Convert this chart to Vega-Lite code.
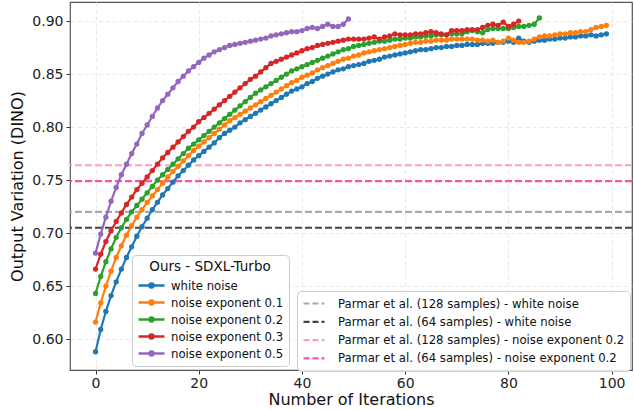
{
"$schema": "https://vega.github.io/schema/vega-lite/v6.json",
"width": 562, "height": 368,
"autosize": {"type": "none"},
"padding": {"left": 70, "top": 2, "right": 2, "bottom": 40},
"background": "white",
"config": {
 "font": "DejaVu Sans",
 "view": {"stroke": "#555", "strokeWidth": 1.2},
 "axis": {"labelFontSize": 14, "labelColor": "#222", "titleFontSize": 16, "titleFontWeight": "normal", "titleColor": "#111", "tickColor": "#333", "tickSize": 4, "domain": false, "gridColor": "#e2e2e2", "gridDash": [4, 3], "gridWidth": 0.8},
 "legend": {"labelFontSize": 11.7, "labelColor": "#111", "fillColor": "rgba(255,255,255,0.85)", "strokeColor": "#cccccc", "cornerRadius": 4, "padding": 5, "labelLimit": 400}
},
"datasets": {
 "refs": [
  {"m": "Parmar et al. (128 samples) - white noise", "v": 0.720},
  {"m": "Parmar et al. (64 samples) - white noise", "v": 0.705},
  {"m": "Parmar et al. (128 samples) - noise exponent 0.2", "v": 0.764},
  {"m": "Parmar et al. (64 samples) - noise exponent 0.2", "v": 0.749}
 ],
 "curves": [
{"s":"white noise","i":0,"v":0.588},{"s":"white noise","i":1,"v":0.609},{"s":"white noise","i":2,"v":0.626},{"s":"white noise","i":3,"v":0.641},{"s":"white noise","i":4,"v":0.654},{"s":"white noise","i":5,"v":0.666},{"s":"white noise","i":6,"v":0.677},{"s":"white noise","i":7,"v":0.687},{"s":"white noise","i":8,"v":0.697},{"s":"white noise","i":9,"v":0.706},
{"s":"white noise","i":10,"v":0.714},{"s":"white noise","i":11,"v":0.722},{"s":"white noise","i":12,"v":0.729},{"s":"white noise","i":13,"v":0.736},{"s":"white noise","i":14,"v":0.742},{"s":"white noise","i":15,"v":0.748},{"s":"white noise","i":16,"v":0.754},{"s":"white noise","i":17,"v":0.759},{"s":"white noise","i":18,"v":0.764},{"s":"white noise","i":19,"v":0.769},
{"s":"white noise","i":20,"v":0.773},{"s":"white noise","i":21,"v":0.777},{"s":"white noise","i":22,"v":0.781},{"s":"white noise","i":23,"v":0.785},{"s":"white noise","i":24,"v":0.790},{"s":"white noise","i":25,"v":0.794},{"s":"white noise","i":26,"v":0.797},{"s":"white noise","i":27,"v":0.800},{"s":"white noise","i":28,"v":0.804},{"s":"white noise","i":29,"v":0.807},
{"s":"white noise","i":30,"v":0.810},{"s":"white noise","i":31,"v":0.813},{"s":"white noise","i":32,"v":0.816},{"s":"white noise","i":33,"v":0.819},{"s":"white noise","i":34,"v":0.822},{"s":"white noise","i":35,"v":0.825},{"s":"white noise","i":36,"v":0.828},{"s":"white noise","i":37,"v":0.831},{"s":"white noise","i":38,"v":0.834},{"s":"white noise","i":39,"v":0.836},
{"s":"white noise","i":40,"v":0.838},{"s":"white noise","i":41,"v":0.841},{"s":"white noise","i":42,"v":0.843},{"s":"white noise","i":43,"v":0.846},{"s":"white noise","i":44,"v":0.848},{"s":"white noise","i":45,"v":0.850},{"s":"white noise","i":46,"v":0.852},{"s":"white noise","i":47,"v":0.854},{"s":"white noise","i":48,"v":0.855},{"s":"white noise","i":49,"v":0.857},
{"s":"white noise","i":50,"v":0.858},{"s":"white noise","i":51,"v":0.859},{"s":"white noise","i":52,"v":0.860},{"s":"white noise","i":53,"v":0.862},{"s":"white noise","i":54,"v":0.863},{"s":"white noise","i":55,"v":0.864},{"s":"white noise","i":56,"v":0.866},{"s":"white noise","i":57,"v":0.867},{"s":"white noise","i":58,"v":0.868},{"s":"white noise","i":59,"v":0.869},
{"s":"white noise","i":60,"v":0.870},{"s":"white noise","i":61,"v":0.871},{"s":"white noise","i":62,"v":0.872},{"s":"white noise","i":63,"v":0.873},{"s":"white noise","i":64,"v":0.873},{"s":"white noise","i":65,"v":0.874},{"s":"white noise","i":66,"v":0.875},{"s":"white noise","i":67,"v":0.875},{"s":"white noise","i":68,"v":0.876},{"s":"white noise","i":69,"v":0.876},
{"s":"white noise","i":70,"v":0.877},{"s":"white noise","i":71,"v":0.877},{"s":"white noise","i":72,"v":0.878},{"s":"white noise","i":73,"v":0.878},{"s":"white noise","i":74,"v":0.878},{"s":"white noise","i":75,"v":0.879},{"s":"white noise","i":76,"v":0.879},{"s":"white noise","i":77,"v":0.879},{"s":"white noise","i":78,"v":0.880},{"s":"white noise","i":79,"v":0.880},
{"s":"white noise","i":80,"v":0.881},{"s":"white noise","i":81,"v":0.880},{"s":"white noise","i":82,"v":0.884},{"s":"white noise","i":83,"v":0.881},{"s":"white noise","i":84,"v":0.880},{"s":"white noise","i":85,"v":0.881},{"s":"white noise","i":86,"v":0.882},{"s":"white noise","i":87,"v":0.882},{"s":"white noise","i":88,"v":0.883},{"s":"white noise","i":89,"v":0.883},
{"s":"white noise","i":90,"v":0.884},{"s":"white noise","i":91,"v":0.884},{"s":"white noise","i":92,"v":0.885},{"s":"white noise","i":93,"v":0.885},{"s":"white noise","i":94,"v":0.886},{"s":"white noise","i":95,"v":0.886},{"s":"white noise","i":96,"v":0.887},{"s":"white noise","i":97,"v":0.886},{"s":"white noise","i":98,"v":0.887},{"s":"white noise","i":99,"v":0.888},
{"s":"noise exponent 0.1","i":0,"v":0.616},{"s":"noise exponent 0.1","i":1,"v":0.634},{"s":"noise exponent 0.1","i":2,"v":0.650},{"s":"noise exponent 0.1","i":3,"v":0.664},{"s":"noise exponent 0.1","i":4,"v":0.677},{"s":"noise exponent 0.1","i":5,"v":0.688},{"s":"noise exponent 0.1","i":6,"v":0.698},{"s":"noise exponent 0.1","i":7,"v":0.707},{"s":"noise exponent 0.1","i":8,"v":0.715},{"s":"noise exponent 0.1","i":9,"v":0.722},
{"s":"noise exponent 0.1","i":10,"v":0.729},{"s":"noise exponent 0.1","i":11,"v":0.735},{"s":"noise exponent 0.1","i":12,"v":0.741},{"s":"noise exponent 0.1","i":13,"v":0.747},{"s":"noise exponent 0.1","i":14,"v":0.753},{"s":"noise exponent 0.1","i":15,"v":0.758},{"s":"noise exponent 0.1","i":16,"v":0.763},{"s":"noise exponent 0.1","i":17,"v":0.768},{"s":"noise exponent 0.1","i":18,"v":0.773},{"s":"noise exponent 0.1","i":19,"v":0.778},
{"s":"noise exponent 0.1","i":20,"v":0.782},{"s":"noise exponent 0.1","i":21,"v":0.786},{"s":"noise exponent 0.1","i":22,"v":0.790},{"s":"noise exponent 0.1","i":23,"v":0.794},{"s":"noise exponent 0.1","i":24,"v":0.798},{"s":"noise exponent 0.1","i":25,"v":0.802},{"s":"noise exponent 0.1","i":26,"v":0.806},{"s":"noise exponent 0.1","i":27,"v":0.809},{"s":"noise exponent 0.1","i":28,"v":0.812},{"s":"noise exponent 0.1","i":29,"v":0.815},
{"s":"noise exponent 0.1","i":30,"v":0.818},{"s":"noise exponent 0.1","i":31,"v":0.821},{"s":"noise exponent 0.1","i":32,"v":0.824},{"s":"noise exponent 0.1","i":33,"v":0.827},{"s":"noise exponent 0.1","i":34,"v":0.830},{"s":"noise exponent 0.1","i":35,"v":0.833},{"s":"noise exponent 0.1","i":36,"v":0.836},{"s":"noise exponent 0.1","i":37,"v":0.839},{"s":"noise exponent 0.1","i":38,"v":0.842},{"s":"noise exponent 0.1","i":39,"v":0.844},
{"s":"noise exponent 0.1","i":40,"v":0.847},{"s":"noise exponent 0.1","i":41,"v":0.849},{"s":"noise exponent 0.1","i":42,"v":0.851},{"s":"noise exponent 0.1","i":43,"v":0.854},{"s":"noise exponent 0.1","i":44,"v":0.856},{"s":"noise exponent 0.1","i":45,"v":0.858},{"s":"noise exponent 0.1","i":46,"v":0.860},{"s":"noise exponent 0.1","i":47,"v":0.862},{"s":"noise exponent 0.1","i":48,"v":0.864},{"s":"noise exponent 0.1","i":49,"v":0.865},
{"s":"noise exponent 0.1","i":50,"v":0.867},{"s":"noise exponent 0.1","i":51,"v":0.868},{"s":"noise exponent 0.1","i":52,"v":0.870},{"s":"noise exponent 0.1","i":53,"v":0.871},{"s":"noise exponent 0.1","i":54,"v":0.872},{"s":"noise exponent 0.1","i":55,"v":0.873},{"s":"noise exponent 0.1","i":56,"v":0.874},{"s":"noise exponent 0.1","i":57,"v":0.875},{"s":"noise exponent 0.1","i":58,"v":0.876},{"s":"noise exponent 0.1","i":59,"v":0.877},
{"s":"noise exponent 0.1","i":60,"v":0.878},{"s":"noise exponent 0.1","i":61,"v":0.879},{"s":"noise exponent 0.1","i":62,"v":0.880},{"s":"noise exponent 0.1","i":63,"v":0.880},{"s":"noise exponent 0.1","i":64,"v":0.881},{"s":"noise exponent 0.1","i":65,"v":0.881},{"s":"noise exponent 0.1","i":66,"v":0.882},{"s":"noise exponent 0.1","i":67,"v":0.882},{"s":"noise exponent 0.1","i":68,"v":0.882},{"s":"noise exponent 0.1","i":69,"v":0.883},
{"s":"noise exponent 0.1","i":70,"v":0.883},{"s":"noise exponent 0.1","i":71,"v":0.883},{"s":"noise exponent 0.1","i":72,"v":0.883},{"s":"noise exponent 0.1","i":73,"v":0.883},{"s":"noise exponent 0.1","i":74,"v":0.882},{"s":"noise exponent 0.1","i":75,"v":0.882},{"s":"noise exponent 0.1","i":76,"v":0.881},{"s":"noise exponent 0.1","i":77,"v":0.882},{"s":"noise exponent 0.1","i":78,"v":0.880},{"s":"noise exponent 0.1","i":79,"v":0.881},
{"s":"noise exponent 0.1","i":80,"v":0.884},{"s":"noise exponent 0.1","i":81,"v":0.882},{"s":"noise exponent 0.1","i":82,"v":0.880},{"s":"noise exponent 0.1","i":83,"v":0.880},{"s":"noise exponent 0.1","i":84,"v":0.881},{"s":"noise exponent 0.1","i":85,"v":0.883},{"s":"noise exponent 0.1","i":86,"v":0.885},{"s":"noise exponent 0.1","i":87,"v":0.886},{"s":"noise exponent 0.1","i":88,"v":0.886},{"s":"noise exponent 0.1","i":89,"v":0.887},
{"s":"noise exponent 0.1","i":90,"v":0.888},{"s":"noise exponent 0.1","i":91,"v":0.888},{"s":"noise exponent 0.1","i":92,"v":0.889},{"s":"noise exponent 0.1","i":93,"v":0.889},{"s":"noise exponent 0.1","i":94,"v":0.890},{"s":"noise exponent 0.1","i":95,"v":0.890},{"s":"noise exponent 0.1","i":96,"v":0.892},{"s":"noise exponent 0.1","i":97,"v":0.894},{"s":"noise exponent 0.1","i":98,"v":0.895},{"s":"noise exponent 0.1","i":99,"v":0.896},
{"s":"noise exponent 0.2","i":0,"v":0.643},{"s":"noise exponent 0.2","i":1,"v":0.659},{"s":"noise exponent 0.2","i":2,"v":0.673},{"s":"noise exponent 0.2","i":3,"v":0.685},{"s":"noise exponent 0.2","i":4,"v":0.696},{"s":"noise exponent 0.2","i":5,"v":0.705},{"s":"noise exponent 0.2","i":6,"v":0.713},{"s":"noise exponent 0.2","i":7,"v":0.720},{"s":"noise exponent 0.2","i":8,"v":0.726},{"s":"noise exponent 0.2","i":9,"v":0.732},
{"s":"noise exponent 0.2","i":10,"v":0.738},{"s":"noise exponent 0.2","i":11,"v":0.744},{"s":"noise exponent 0.2","i":12,"v":0.750},{"s":"noise exponent 0.2","i":13,"v":0.755},{"s":"noise exponent 0.2","i":14,"v":0.760},{"s":"noise exponent 0.2","i":15,"v":0.765},{"s":"noise exponent 0.2","i":16,"v":0.770},{"s":"noise exponent 0.2","i":17,"v":0.775},{"s":"noise exponent 0.2","i":18,"v":0.780},{"s":"noise exponent 0.2","i":19,"v":0.784},
{"s":"noise exponent 0.2","i":20,"v":0.788},{"s":"noise exponent 0.2","i":21,"v":0.792},{"s":"noise exponent 0.2","i":22,"v":0.796},{"s":"noise exponent 0.2","i":23,"v":0.800},{"s":"noise exponent 0.2","i":24,"v":0.804},{"s":"noise exponent 0.2","i":25,"v":0.808},{"s":"noise exponent 0.2","i":26,"v":0.812},{"s":"noise exponent 0.2","i":27,"v":0.816},{"s":"noise exponent 0.2","i":28,"v":0.820},{"s":"noise exponent 0.2","i":29,"v":0.824},
{"s":"noise exponent 0.2","i":30,"v":0.828},{"s":"noise exponent 0.2","i":31,"v":0.832},{"s":"noise exponent 0.2","i":32,"v":0.835},{"s":"noise exponent 0.2","i":33,"v":0.838},{"s":"noise exponent 0.2","i":34,"v":0.841},{"s":"noise exponent 0.2","i":35,"v":0.844},{"s":"noise exponent 0.2","i":36,"v":0.847},{"s":"noise exponent 0.2","i":37,"v":0.850},{"s":"noise exponent 0.2","i":38,"v":0.853},{"s":"noise exponent 0.2","i":39,"v":0.855},
{"s":"noise exponent 0.2","i":40,"v":0.857},{"s":"noise exponent 0.2","i":41,"v":0.859},{"s":"noise exponent 0.2","i":42,"v":0.861},{"s":"noise exponent 0.2","i":43,"v":0.863},{"s":"noise exponent 0.2","i":44,"v":0.865},{"s":"noise exponent 0.2","i":45,"v":0.867},{"s":"noise exponent 0.2","i":46,"v":0.869},{"s":"noise exponent 0.2","i":47,"v":0.871},{"s":"noise exponent 0.2","i":48,"v":0.873},{"s":"noise exponent 0.2","i":49,"v":0.874},
{"s":"noise exponent 0.2","i":50,"v":0.876},{"s":"noise exponent 0.2","i":51,"v":0.877},{"s":"noise exponent 0.2","i":52,"v":0.878},{"s":"noise exponent 0.2","i":53,"v":0.879},{"s":"noise exponent 0.2","i":54,"v":0.880},{"s":"noise exponent 0.2","i":55,"v":0.881},{"s":"noise exponent 0.2","i":56,"v":0.881},{"s":"noise exponent 0.2","i":57,"v":0.882},{"s":"noise exponent 0.2","i":58,"v":0.883},{"s":"noise exponent 0.2","i":59,"v":0.883},
{"s":"noise exponent 0.2","i":60,"v":0.884},{"s":"noise exponent 0.2","i":61,"v":0.884},{"s":"noise exponent 0.2","i":62,"v":0.885},{"s":"noise exponent 0.2","i":63,"v":0.885},{"s":"noise exponent 0.2","i":64,"v":0.886},{"s":"noise exponent 0.2","i":65,"v":0.886},{"s":"noise exponent 0.2","i":66,"v":0.887},{"s":"noise exponent 0.2","i":67,"v":0.887},{"s":"noise exponent 0.2","i":68,"v":0.887},{"s":"noise exponent 0.2","i":69,"v":0.888},
{"s":"noise exponent 0.2","i":70,"v":0.888},{"s":"noise exponent 0.2","i":71,"v":0.888},{"s":"noise exponent 0.2","i":72,"v":0.890},{"s":"noise exponent 0.2","i":73,"v":0.891},{"s":"noise exponent 0.2","i":74,"v":0.890},{"s":"noise exponent 0.2","i":75,"v":0.889},{"s":"noise exponent 0.2","i":76,"v":0.892},{"s":"noise exponent 0.2","i":77,"v":0.893},{"s":"noise exponent 0.2","i":78,"v":0.893},{"s":"noise exponent 0.2","i":79,"v":0.893},
{"s":"noise exponent 0.2","i":80,"v":0.893},{"s":"noise exponent 0.2","i":81,"v":0.894},{"s":"noise exponent 0.2","i":82,"v":0.895},{"s":"noise exponent 0.2","i":83,"v":0.895},{"s":"noise exponent 0.2","i":84,"v":0.896},{"s":"noise exponent 0.2","i":85,"v":0.897},{"s":"noise exponent 0.2","i":86,"v":0.903},
{"s":"noise exponent 0.3","i":0,"v":0.666},{"s":"noise exponent 0.3","i":1,"v":0.680},{"s":"noise exponent 0.3","i":2,"v":0.692},{"s":"noise exponent 0.3","i":3,"v":0.702},{"s":"noise exponent 0.3","i":4,"v":0.711},{"s":"noise exponent 0.3","i":5,"v":0.719},{"s":"noise exponent 0.3","i":6,"v":0.727},{"s":"noise exponent 0.3","i":7,"v":0.734},{"s":"noise exponent 0.3","i":8,"v":0.741},{"s":"noise exponent 0.3","i":9,"v":0.747},
{"s":"noise exponent 0.3","i":10,"v":0.753},{"s":"noise exponent 0.3","i":11,"v":0.759},{"s":"noise exponent 0.3","i":12,"v":0.765},{"s":"noise exponent 0.3","i":13,"v":0.771},{"s":"noise exponent 0.3","i":14,"v":0.776},{"s":"noise exponent 0.3","i":15,"v":0.781},{"s":"noise exponent 0.3","i":16,"v":0.786},{"s":"noise exponent 0.3","i":17,"v":0.791},{"s":"noise exponent 0.3","i":18,"v":0.796},{"s":"noise exponent 0.3","i":19,"v":0.800},
{"s":"noise exponent 0.3","i":20,"v":0.805},{"s":"noise exponent 0.3","i":21,"v":0.809},{"s":"noise exponent 0.3","i":22,"v":0.813},{"s":"noise exponent 0.3","i":23,"v":0.817},{"s":"noise exponent 0.3","i":24,"v":0.821},{"s":"noise exponent 0.3","i":25,"v":0.825},{"s":"noise exponent 0.3","i":26,"v":0.829},{"s":"noise exponent 0.3","i":27,"v":0.833},{"s":"noise exponent 0.3","i":28,"v":0.837},{"s":"noise exponent 0.3","i":29,"v":0.841},
{"s":"noise exponent 0.3","i":30,"v":0.845},{"s":"noise exponent 0.3","i":31,"v":0.848},{"s":"noise exponent 0.3","i":32,"v":0.852},{"s":"noise exponent 0.3","i":33,"v":0.856},{"s":"noise exponent 0.3","i":34,"v":0.860},{"s":"noise exponent 0.3","i":35,"v":0.862},{"s":"noise exponent 0.3","i":36,"v":0.864},{"s":"noise exponent 0.3","i":37,"v":0.866},{"s":"noise exponent 0.3","i":38,"v":0.868},{"s":"noise exponent 0.3","i":39,"v":0.870},
{"s":"noise exponent 0.3","i":40,"v":0.872},{"s":"noise exponent 0.3","i":41,"v":0.874},{"s":"noise exponent 0.3","i":42,"v":0.875},{"s":"noise exponent 0.3","i":43,"v":0.877},{"s":"noise exponent 0.3","i":44,"v":0.878},{"s":"noise exponent 0.3","i":45,"v":0.879},{"s":"noise exponent 0.3","i":46,"v":0.880},{"s":"noise exponent 0.3","i":47,"v":0.881},{"s":"noise exponent 0.3","i":48,"v":0.882},{"s":"noise exponent 0.3","i":49,"v":0.883},
{"s":"noise exponent 0.3","i":50,"v":0.883},{"s":"noise exponent 0.3","i":51,"v":0.883},{"s":"noise exponent 0.3","i":52,"v":0.883},{"s":"noise exponent 0.3","i":53,"v":0.884},{"s":"noise exponent 0.3","i":54,"v":0.885},{"s":"noise exponent 0.3","i":55,"v":0.883},{"s":"noise exponent 0.3","i":56,"v":0.885},{"s":"noise exponent 0.3","i":57,"v":0.886},{"s":"noise exponent 0.3","i":58,"v":0.888},{"s":"noise exponent 0.3","i":59,"v":0.887},
{"s":"noise exponent 0.3","i":60,"v":0.887},{"s":"noise exponent 0.3","i":61,"v":0.887},{"s":"noise exponent 0.3","i":62,"v":0.888},{"s":"noise exponent 0.3","i":63,"v":0.888},{"s":"noise exponent 0.3","i":64,"v":0.889},{"s":"noise exponent 0.3","i":65,"v":0.890},{"s":"noise exponent 0.3","i":66,"v":0.889},{"s":"noise exponent 0.3","i":67,"v":0.888},{"s":"noise exponent 0.3","i":68,"v":0.887},{"s":"noise exponent 0.3","i":69,"v":0.891},
{"s":"noise exponent 0.3","i":70,"v":0.891},{"s":"noise exponent 0.3","i":71,"v":0.891},{"s":"noise exponent 0.3","i":72,"v":0.892},{"s":"noise exponent 0.3","i":73,"v":0.892},{"s":"noise exponent 0.3","i":74,"v":0.892},{"s":"noise exponent 0.3","i":75,"v":0.894},{"s":"noise exponent 0.3","i":76,"v":0.896},{"s":"noise exponent 0.3","i":77,"v":0.897},{"s":"noise exponent 0.3","i":78,"v":0.896},{"s":"noise exponent 0.3","i":79,"v":0.899},
{"s":"noise exponent 0.3","i":80,"v":0.895},{"s":"noise exponent 0.3","i":81,"v":0.897},{"s":"noise exponent 0.3","i":82,"v":0.900},
{"s":"noise exponent 0.5","i":0,"v":0.681},{"s":"noise exponent 0.5","i":1,"v":0.699},{"s":"noise exponent 0.5","i":2,"v":0.715},{"s":"noise exponent 0.5","i":3,"v":0.730},{"s":"noise exponent 0.5","i":4,"v":0.743},{"s":"noise exponent 0.5","i":5,"v":0.755},{"s":"noise exponent 0.5","i":6,"v":0.765},{"s":"noise exponent 0.5","i":7,"v":0.775},{"s":"noise exponent 0.5","i":8,"v":0.784},{"s":"noise exponent 0.5","i":9,"v":0.794},
{"s":"noise exponent 0.5","i":10,"v":0.802},{"s":"noise exponent 0.5","i":11,"v":0.810},{"s":"noise exponent 0.5","i":12,"v":0.818},{"s":"noise exponent 0.5","i":13,"v":0.825},{"s":"noise exponent 0.5","i":14,"v":0.831},{"s":"noise exponent 0.5","i":15,"v":0.837},{"s":"noise exponent 0.5","i":16,"v":0.843},{"s":"noise exponent 0.5","i":17,"v":0.848},{"s":"noise exponent 0.5","i":18,"v":0.853},{"s":"noise exponent 0.5","i":19,"v":0.857},
{"s":"noise exponent 0.5","i":20,"v":0.861},{"s":"noise exponent 0.5","i":21,"v":0.865},{"s":"noise exponent 0.5","i":22,"v":0.868},{"s":"noise exponent 0.5","i":23,"v":0.871},{"s":"noise exponent 0.5","i":24,"v":0.873},{"s":"noise exponent 0.5","i":25,"v":0.875},{"s":"noise exponent 0.5","i":26,"v":0.877},{"s":"noise exponent 0.5","i":27,"v":0.878},{"s":"noise exponent 0.5","i":28,"v":0.879},{"s":"noise exponent 0.5","i":29,"v":0.880},
{"s":"noise exponent 0.5","i":30,"v":0.881},{"s":"noise exponent 0.5","i":31,"v":0.882},{"s":"noise exponent 0.5","i":32,"v":0.883},{"s":"noise exponent 0.5","i":33,"v":0.884},{"s":"noise exponent 0.5","i":34,"v":0.886},{"s":"noise exponent 0.5","i":35,"v":0.887},{"s":"noise exponent 0.5","i":36,"v":0.888},{"s":"noise exponent 0.5","i":37,"v":0.889},{"s":"noise exponent 0.5","i":38,"v":0.890},{"s":"noise exponent 0.5","i":39,"v":0.890},
{"s":"noise exponent 0.5","i":40,"v":0.891},{"s":"noise exponent 0.5","i":41,"v":0.893},{"s":"noise exponent 0.5","i":42,"v":0.894},{"s":"noise exponent 0.5","i":43,"v":0.893},{"s":"noise exponent 0.5","i":44,"v":0.895},{"s":"noise exponent 0.5","i":45,"v":0.897},{"s":"noise exponent 0.5","i":46,"v":0.895},{"s":"noise exponent 0.5","i":47,"v":0.895},{"s":"noise exponent 0.5","i":48,"v":0.897},{"s":"noise exponent 0.5","i":49,"v":0.902}
 ]
},
"layer": [
 {
  "data": {"name": "refs"},
  "mark": {"type": "rule", "strokeDash": [7, 3], "strokeWidth": 2.2},
  "encoding": {
   "y": {"field": "v", "type": "quantitative", "scale": {"domain": [0.5708, 0.918], "nice": false, "zero": false}},
   "color": {"field": "m", "type": "nominal",
    "scale": {"domain": ["Parmar et al. (128 samples) - white noise", "Parmar et al. (64 samples) - white noise", "Parmar et al. (128 samples) - noise exponent 0.2", "Parmar et al. (64 samples) - noise exponent 0.2"], "range": ["#aaaaaa", "#444444", "#ff9ccd", "#f556a8"]},
    "legend": {"title": null, "orient": "none", "legendX": 227, "legendY": 289, "symbolType": "M-1,0L2.5,0", "symbolSize": 144, "symbolStrokeWidth": 2.2, "symbolDash": [6, 3], "labelOffset": 21, "rowPadding": 3.3}}
  }
 },
 {
  "data": {"name": "curves"},
  "encoding": {
   "x": {"field": "i", "type": "quantitative", "scale": {"domain": [-4.95, 103.95], "nice": false, "zero": false},
    "axis": {"values": [0, 20, 40, 60, 80, 100], "format": "d", "title": "Number of Iterations", "labelPadding": 2, "titlePadding": 1}},
   "y": {"field": "v", "type": "quantitative", "scale": {"domain": [0.5708, 0.918], "nice": false, "zero": false},
    "axis": {"values": [0.60, 0.65, 0.70, 0.75, 0.80, 0.85, 0.90], "format": ".2f", "title": "Output Variation (DINO)", "labelPadding": 3, "titlePadding": 6}},
   "color": {"field": "s", "type": "nominal",
    "scale": {"domain": ["white noise", "noise exponent 0.1", "noise exponent 0.2", "noise exponent 0.3", "noise exponent 0.5"], "range": ["#1f77b4", "#ff7f0e", "#2ca02c", "#d62728", "#9467bd"]},
    "legend": {"title": "Ours - SDXL-Turbo", "orient": "none", "legendX": 62, "legendY": 253, "titleAnchor": "middle", "titleFontSize": 13.5, "titleFontWeight": "normal", "titleColor": "#111", "titlePadding": 4, "symbolType": "M-1,0L3,0M0.7,0A0.3,0.3,0,1,1,1.3,0A0.3,0.3,0,1,1,0.7,0", "symbolSize": 169, "symbolStrokeWidth": 2.5, "symbolOpacity": 1, "labelOffset": 18, "rowPadding": 2}}
  },
  "layer": [
   {"mark": {"type": "line", "strokeWidth": 2.2}},
   {"mark": {"type": "point", "filled": true, "size": 28, "opacity": 1}}
  ]
 }
],
"resolve": {"scale": {"color": "independent"}}
}
